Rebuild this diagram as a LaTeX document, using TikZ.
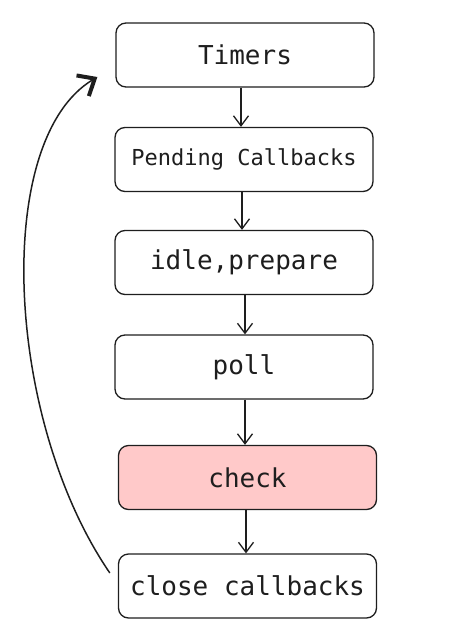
\documentclass[tikz,border=0pt]{standalone}
\usepackage{fontspec}
\setmonofont{DejaVu Sans Mono}
\usetikzlibrary{arrows.meta}
\definecolor{ink}{HTML}{1E1E1E}
\definecolor{pinkfill}{HTML}{FFC9C9}
\tikzset{
  stagebox/.style={draw=ink, line width=1.3pt, rounded corners=10pt, minimum width=258pt, minimum height=64pt, inner sep=0pt, text=ink, font=\ttfamily\fontsize{26}{30}\selectfont, fill=white},
  flow/.style={draw=ink, line width=1.3pt, -{Straight Barb[length=10pt,width=15pt]}},
  loop/.style={draw=ink, line width=1.5pt, -{Straight Barb[length=14pt,width=24pt,line width=4pt]}}
}
\begin{document}
\begin{tikzpicture}[x=1pt,y=-1pt]
\useasboundingbox (0,0) rectangle (460,622);
\node[stagebox] (t) at (245,55) {Timers};
\node[stagebox, font=\ttfamily\fontsize{22}{26}\selectfont] (p) at (244,159.5) {Pending Callbacks};
\node[stagebox] (i) at (244,262.5) {idle,prepare};
\node[stagebox] (o) at (244,367) {poll};
\node[stagebox, fill=pinkfill] (c) at (247.5,477.5) {check};
\node[stagebox] (k) at (247.5,586) {close callbacks};
\draw[flow] ([xshift=-4pt]t.south) -- ([xshift=-3pt]p.north);
\draw[flow] ([xshift=-2pt]p.south) -- ([xshift=-2pt]i.north);
\draw[flow] ([xshift=1pt]i.south) -- ([xshift=1pt]o.north);
\draw[flow] ([xshift=1pt]o.south) -- ([xshift=-2.5pt]c.north);
\draw[flow] ([xshift=-1.5pt]c.south) -- ([xshift=-1.5pt]k.north);
\coordinate (ls) at ([xshift=-8pt,yshift=13pt]k.west);
\coordinate (le) at ([xshift=-18pt,yshift=-22pt]t.west);
\draw[loop] (ls) .. controls (5,420) and (-8,140) .. (le);
\end{tikzpicture}
\end{document}
